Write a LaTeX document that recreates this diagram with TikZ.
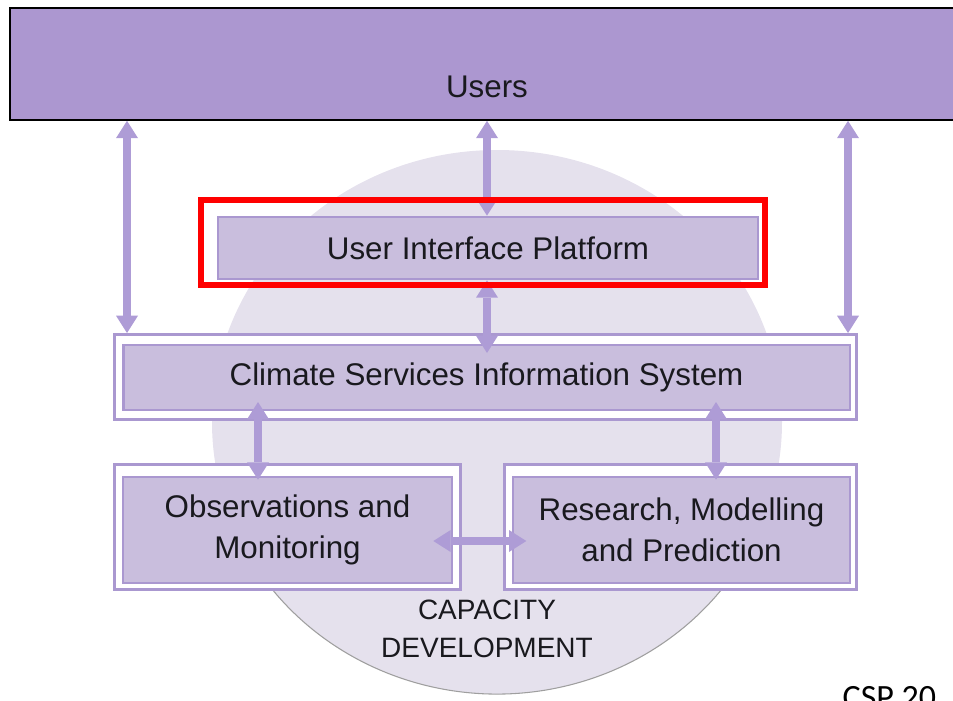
\documentclass[tikz,border=0pt]{standalone}
\usepackage{fontspec}
\setmainfont{Liberation Sans}
\newfontfamily\cspfont{Carlito}
\usetikzlibrary{arrows.meta}

\definecolor{userfill}{RGB}{172,151,208}
\definecolor{boxfill}{RGB}{201,190,221}
\definecolor{boxline}{RGB}{170,152,208}
\definecolor{linkcol}{RGB}{174,156,214}
\definecolor{capfill}{RGB}{229,225,237}
\definecolor{txt}{RGB}{25,25,30}

\begin{document}
\begin{tikzpicture}[x=0.75pt,y=-0.75pt,
   userbox/.style={rectangle,draw=black,line width=1.2pt,fill=userfill,
    minimum width=727.5pt,minimum height=84pt,inner sep=0pt},
   frame/.style={rectangle,draw=boxline,line width=2.2pt,fill=white,inner sep=0pt},
   box/.style={rectangle,draw=boxline,line width=2pt,fill=boxfill,inner sep=0pt,
    align=center,text=txt,font=\fontsize{23.5}{30.75}\selectfont},
   redframe/.style={rectangle,draw=red,line width=4.5pt,inner sep=0pt},
   link/.style={draw=linkcol,line width=5.4pt,
    {Triangle[width=16.5pt,length=13pt,line width=0pt]}-{Triangle[width=16.5pt,length=13pt,line width=0pt]}}
    ]
  \useasboundingbox (0,0) rectangle (953,700);

  % -- circle in the back
  \coordinate (capc) at (497,422);
  \fill[capfill] (capc) ellipse [x radius=213.75pt, y radius=204pt];
  \draw[gray!75,line width=0.8pt] (capc) ++(200:213.75pt and 204pt)
    arc[start angle=200,end angle=340,x radius=213.75pt,y radius=204pt];

  % -- top row
  \node[userbox] at (495,64) (users) {};
  \node[text=txt,font=\fontsize{23.5}{28}\selectfont,anchor=base] at (487,97) (userstxt) {Users};

  % -- platform
  \node[box,minimum width=405pt,minimum height=46.5pt] at (488,248) (uip) {User Interface Platform};

  % -- information system
  \node[frame,minimum width=556.5pt,minimum height=63.75pt] at (485.5,377) (csisf) {};
  \node[box,minimum width=545pt,minimum height=48.75pt] at (486.5,377.5) (csis) {Climate Services Information System};

  % -- bottom row
  \node[frame,minimum width=259.5pt,minimum height=93.75pt] at (287.5,527) (obsf) {};
  \node[box,minimum width=246.75pt,minimum height=79.5pt] at (287.5,530) (obs) {Observations and\\Monitoring};
  \node[frame,minimum width=264pt,minimum height=93.75pt] at (680.5,527) (rmpf) {};
  \node[box,minimum width=252.75pt,minimum height=79.5pt] at (681.5,530) (rmp) {Research, Modelling\\and Prediction};

  \node[align=center,text=txt,font=\fontsize{21}{28.5}\selectfont] at (487,629) (capdev) {CAPACITY\\DEVELOPMENT};

  % -- arrows
  \coordinate (xl) at (127,0);
  \coordinate (xm) at (487,0);
  \coordinate (xr) at (848,0);
  \coordinate (xo) at (258,0);
  \coordinate (xp) at (716,0);
  \coordinate (yh) at (0,541);
  \draw[link] (users.south -| xl) -- (csisf.north -| xl);
  \draw[link] (users.south -| xr) -- (csisf.north -| xr);
  \draw[link] (users.south -| xm) -- (uip.north -| xm);
  \draw[link,shorten >=-7pt] (uip.south -| xm) -- (csis.north -| xm);
  \draw[link,shorten <=-7pt,shorten >=-3pt] (csis.south -| xo) -- (obs.north -| xo);
  \draw[link,shorten <=-7pt,shorten >=-3pt] (csis.south -| xp) -- (rmp.north -| xp);
  \draw[link,shorten <=-15pt,shorten >=-11pt] (obs.east |- yh) -- (rmp.west |- yh);

  % -- highlight
  \node[redframe,minimum width=423pt,minimum height=63.75pt] at (483,242.5) (uipred) {};

  \node[anchor=base west,font=\cspfont\fontsize{25.5}{30}\selectfont] at (838,708) (csp) {CSP 20};
\end{tikzpicture}
\end{document}
